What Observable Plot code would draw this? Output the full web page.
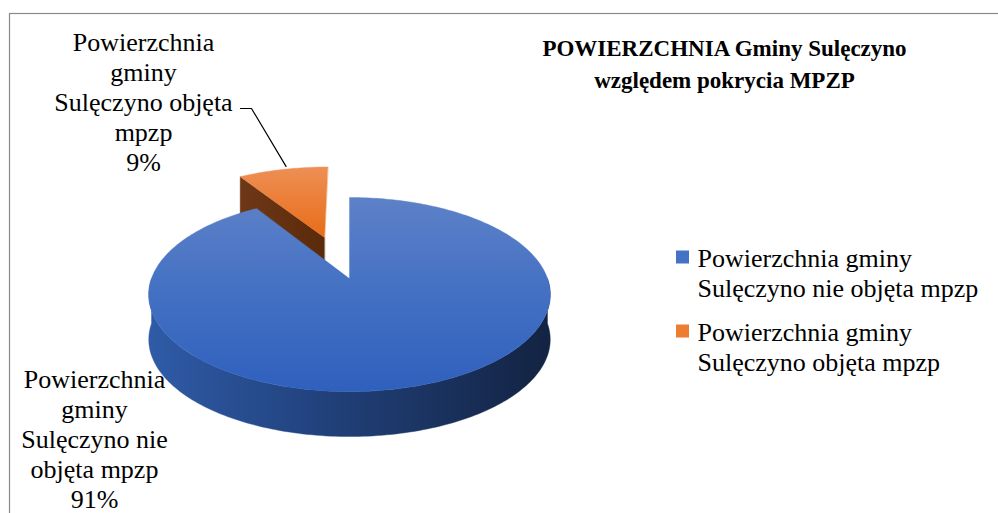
<!DOCTYPE html>
<html><head><meta charset="utf-8">
<script src="https://cdn.jsdelivr.net/npm/d3@7"></script>
<script src="https://cdn.jsdelivr.net/npm/@observablehq/plot@0.6"></script>
<style>
html,body{margin:0;padding:0;background:#fff;}
#chart{width:998px;height:513px;overflow:hidden;position:relative;}
svg{display:block;}
svg text{font-family:"Liberation Serif","Times New Roman",serif !important;}
g[aria-label="shadow"]{filter:blur(3px);}
</style></head><body><div id="chart"></div>
<script>
// ---------- data ----------
const categories = ["Powierzchnia gminy Sulęczyno nie objęta mpzp", "Powierzchnia gminy Sulęczyno objęta mpzp"];
const shares = [91, 9];
const sliceLabels = ["Powierzchnia\ngminy\nSulęczyno nie\nobjęta mpzp\n91%", "Powierzchnia\ngminy\nSulęczyno objęta\nmpzp\n9%"];
const legendLabels = ["Powierzchnia gminy\nSulęczyno nie objęta mpzp", "Powierzchnia gminy\nSulęczyno objęta mpzp"];
const titleText = "POWIERZCHNIA Gminy Sulęczyno\nwzględem pokrycia MPZP";
const explode = [0, 0.487];
const topFills = ["url(#blueTop)", "url(#orangeTop)"];
const sideFills = ["url(#blueSide)", "url(#orangeSide)"];
const faceFills = ["url(#blueFace)", "url(#brownFace)"];
const legendColors = ["#4472c4", "#ed7d31"];

// ---------- layout ----------
const W = 998, H = 513;
const G = {cx: 349, cy: 278, A: 198, B: 94.4, p: 0.165, depth: 45};
const labelPos = [[94, 438], [143, 101]];
const legendPos = {x: 676, textX: 697, rows: [272, 346], size: 13, lineH: 30};
const titlePos = [724, 61];
const serif = "Liberation Serif";

function proj(u, v) { const w = 1 / (1 - G.p * v); return [G.cx + G.A * u * w, G.cy + G.B * v * w]; }
function planePt(theta, r, ou, ov) { return [r * Math.sin(theta) + ou, -r * Math.cos(theta) + ov]; }

const arcs = d3.pie().sort(null).value(d => d)(shares);
const slices = arcs.map((a, i) => {
  const mid = (a.startAngle + a.endAngle) / 2;
  const e = explode[i];
  return {i, a0: a.startAngle, a1: a.endAngle, mid, ou: e * Math.sin(mid), ov: -e * Math.cos(mid)};
});
const order = slices.slice().sort((s, t) => (-Math.cos(s.mid) + s.ov) - (-Math.cos(t.mid) + t.ov));

const polys = [], shadows = [];
let pid = 0;
function addPoly(pts, fill, target) {
  const id = pid++;
  pts.forEach(([x, y], k) => target.push({id, x, y, k, fill}));
}
function arcPts(s, t0, t1, dy) {
  const n = Math.max(2, Math.ceil(Math.abs(t1 - t0) / 0.02));
  return d3.range(n + 1).map(j => {
    const t = t0 + (t1 - t0) * j / n;
    const [u, v] = planePt(t, 1, s.ou, s.ov);
    const [x, y] = proj(u, v);
    return [x, y + dy];
  });
}
for (const s of order) {
  const apex = proj(s.ou, s.ov);
  const apexB = [apex[0], apex[1] + G.depth];
  const body = [apex, ...arcPts(s, s.a0, s.a1, 0)];
  const bodyLow = [apexB, ...arcPts(s, s.a0, s.a1, G.depth)];
  addPoly(bodyLow.map(([x, y]) => [x + 3, y + 3]), "#7f7f7f", shadows);
  if (Math.sin(s.a0) < -1e-6) {
    const r = arcPts(s, s.a0, s.a0, 0)[0];
    addPoly([apex, r, [r[0], r[1] + G.depth], apexB], faceFills[s.i], polys);
  }
  if (Math.sin(s.a1) > 1e-6) {
    const r = arcPts(s, s.a1, s.a1, 0)[0];
    addPoly([apex, r, [r[0], r[1] + G.depth], apexB], faceFills[s.i], polys);
  }
  const t0 = Math.max(s.a0, Math.PI / 2), t1 = Math.min(s.a1, 3 * Math.PI / 2);
  if (t1 > t0) {
    const topArc = arcPts(s, t0, t1, 0);
    const botArc = arcPts(s, t0, t1, G.depth).reverse();
    addPoly([...topArc, ...botArc], sideFills[s.i], polys);
  }
  addPoly(body, topFills[s.i], polys);
}

const small = slices[1];
const tip = proj(...planePt(small.mid, 1, small.ou, small.ov));
const leader = [{x: 240, y: 108}, {x: 251, y: 108}, {x: tip[0] + 3, y: tip[1] - 3}];

const legendData = categories.map((c, i) => ({c, i, y: legendPos.rows[i]}));

const plot = Plot.plot({
  width: W, height: H,
  margin: 0,
  x: {domain: [0, W], range: [0, W], axis: null},
  y: {domain: [0, H], range: [0, H], axis: null},
  color: {type: "identity"},
  style: {fontFamily: serif, background: "#fff", overflow: "hidden"},
  marks: [
    Plot.rect([0], {x1: 9.5, x2: W + 20, y1: 13.5, y2: H + 20, fill: "none", stroke: "#8a8a8a", strokeWidth: 1.2}),
    Plot.line(shadows, {x: "x", y: "y", z: "id", fill: "fill", fillOpacity: 0.55, stroke: "none", curve: "linear-closed", ariaLabel: "shadow"}),
    Plot.line(polys, {x: "x", y: "y", z: "id", fill: "fill", stroke: "fill", strokeWidth: 0.4, curve: "linear-closed"}),
    Plot.line(leader, {x: "x", y: "y", stroke: "#000", strokeWidth: 1.2}),
    Plot.text(sliceLabels, {x: (d, i) => labelPos[i][0], y: (d, i) => labelPos[i][1], text: d => d, fontFamily: serif, fontSize: 26, lineHeight: 1.15, textAnchor: "middle", fill: "#000"}),
    Plot.text([titleText], {x: titlePos[0], y: titlePos[1], text: d => d, fontFamily: serif, fontSize: 23, fontWeight: "bold", lineHeight: 1.42, textAnchor: "middle", fill: "#000"}),
    Plot.rect(legendData, {x1: legendPos.x, x2: legendPos.x + legendPos.size, y1: d => d.y - legendPos.lineH / 2 - legendPos.size / 2, y2: d => d.y - legendPos.lineH / 2 + legendPos.size / 2, fill: d => legendColors[d.i]}),
    Plot.text(legendData, {x: legendPos.textX, y: "y", text: d => legendLabels[d.i], fontFamily: serif, fontSize: 26, lineHeight: 1.15, textAnchor: "start", fill: "#000"})
  ]
});

const defs = `<defs>
<linearGradient id="blueTop" x1="0" y1="0" x2="0" y2="1"><stop offset="0" stop-color="#5d81c8"/><stop offset="0.5" stop-color="#4370c3"/><stop offset="1" stop-color="#2f60bd"/></linearGradient>
<linearGradient id="blueSide" x1="0" y1="0" x2="1" y2="0"><stop offset="0" stop-color="#2f5ba7"/><stop offset="0.4" stop-color="#22437f"/><stop offset="1" stop-color="#132342"/></linearGradient>
<linearGradient id="blueFace" x1="0" y1="0" x2="1" y2="0"><stop offset="0" stop-color="#223f78"/><stop offset="1" stop-color="#182c55"/></linearGradient>
<linearGradient id="orangeTop" x1="0" y1="0" x2="0" y2="1"><stop offset="0" stop-color="#ee8f55"/><stop offset="1" stop-color="#e86c18"/></linearGradient>
<linearGradient id="orangeSide" x1="0" y1="0" x2="1" y2="0"><stop offset="0" stop-color="#8a4516"/><stop offset="1" stop-color="#5c2b0b"/></linearGradient>
<linearGradient id="brownFace" x1="0" y1="0" x2="1" y2="0"><stop offset="0" stop-color="#6e3817"/><stop offset="1" stop-color="#5a2a0a"/></linearGradient>
</defs>`;
plot.insertAdjacentHTML("afterbegin", defs);
document.getElementById("chart").appendChild(plot);
</script>
</body></html>
